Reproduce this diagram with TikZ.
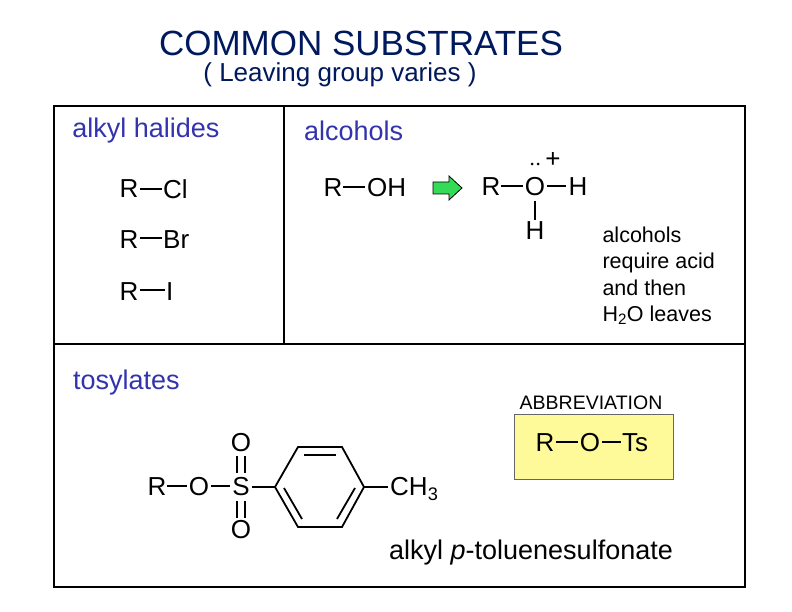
\documentclass[tikz,border=0pt]{standalone}
\usepackage{fontspec}
\setmainfont{Liberation Sans}
\begin{document}
\begin{tikzpicture}[x=1pt,y=-1pt,
  chem/.style={font=\fontsize{26}{30}\selectfont,inner sep=0pt},
  lbl/.style={font=\fontsize{27}{30}\selectfont,text=blue!60!black!80,inner sep=0pt},
  bnd/.style={line width=1.8pt}]
\useasboundingbox (0,0) rectangle (792,612);
\node[inner sep=0pt] (t) at (361,43) {\fontsize{35}{38}\selectfont\color{blue!40!black!90!green}COMMON SUBSTRATES};
\node[inner sep=0pt] (t2) at (340,75) {\fontsize{26}{28}\selectfont\color{blue!40!black!90!green}( Leaving group varies )};
\draw[line width=1.2pt] (54,106) rectangle (745,587);
\draw[line width=1.2pt] (54,344) -- (745,344);
\draw[line width=1.2pt] (284,106) -- (284,344);
\node[lbl] (ah) at (146,131) {alkyl halides};
\node[lbl,anchor=west] (al) at (304,131) {alcohols};
\node[lbl,anchor=west] (ts) at (73,383) {tosylates};
% halides
\node[chem] (r1) at (129,189) {R}; \node[chem,anchor=west] (cl) at (163,189) {Cl};
\draw[bnd] (140,189) -- (162,189);
\node[chem] (r2) at (129,240) {R}; \node[chem,anchor=west] (br) at (163,240) {Br};
\draw[bnd] (140,238) -- (162,238);
\node[chem] (r3) at (129,292) {R}; \node[chem,anchor=west] (io) at (166,292) {I};
\draw[bnd] (140,290) -- (165,290);
% alcohols
\node[chem] (r4) at (333,188) {R}; \node[chem,anchor=west] (oh) at (367,188) {OH};
\draw[bnd] (343,187) -- (365,187);
\fill[green!65!teal!80,draw=black,line width=0.8pt] (433,182) -- (449,182) -- (449,176) -- (462,188) -- (449,200) -- (449,194) -- (433,194) -- cycle;
\node[chem] (r5) at (491,187) {R}; \node[chem] (o5) at (535,187) {O}; \node[chem] (h5) at (578,187) {H};
\draw[bnd] (501,186) -- (523,186); \draw[bnd] (547,186) -- (566,186);
\draw[bnd] (535,201) -- (535,220); \node[chem] (h6) at (535,231) {H};
\fill (532,164) circle (1.5pt) (538,164) circle (1.5pt);
\node[chem] (pl) at (553,160) {+};
\node[font=\fontsize{21.5}{26.5}\selectfont,align=left,anchor=north west] (note) at (599,223) {alcohols\\require acid\\and then\\H\textsubscript{2}O leaves};
% abbreviation
\node[font=\fontsize{19.5}{22}\selectfont] (ab) at (591,403) {ABBREVIATION};
\draw[fill=yellow!40,draw=gray!80!black,line width=0.8pt] (514,414) rectangle (673,479);
\node[chem] (r7) at (545,443) {R}; \node[chem] (o7) at (590,443) {O}; \node[chem,anchor=west] (ts7) at (622,443) {Ts};
\draw[bnd] (556,442) -- (578,442); \draw[bnd] (602,442) -- (621,442);
% tosylate
\node[chem] (r8) at (157,487) {R}; \node[chem] (o8) at (199,487) {O}; \node[chem] (s8) at (241,487) {S};
\node[chem] (ou) at (241,443) {O}; \node[chem] (od) at (241,530) {O};
\draw[bnd] (167,486) -- (187,486); \draw[bnd] (211,486) -- (230,486);
\draw[bnd] (237,456) -- (237,473) (245,456) -- (245,473);
\draw[bnd] (237,501) -- (237,518) (245,501) -- (245,518);
\draw[bnd] (252,487) -- (275,487);
\draw[bnd,line join=miter] (275,487) -- (298,447) -- (342,447) -- (364,487) -- (342,527) -- (298,527) -- cycle;
\draw[bnd] (304,455) -- (336,455);
\draw[bnd] (284,488) -- (302,519);
\draw[bnd] (355,488) -- (337,519);
\draw[bnd] (364,487) -- (388,487);
\node[chem,anchor=west] (ch3) at (390,489) {CH\textsubscript{3}};
\node[font=\fontsize{27}{30}\selectfont] (name) at (531,553) {alkyl \textit{p}-toluenesulfonate};
\end{tikzpicture}
\end{document}
